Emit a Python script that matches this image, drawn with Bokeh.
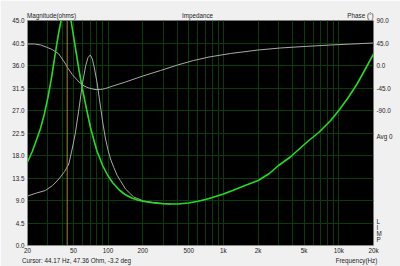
from bokeh.plotting import figure
from bokeh.models import Range1d, LinearAxis, LogAxis, FixedTicker, Span, PrintfTickFormatter
from bokeh.embed import file_html
from bokeh.resources import INLINE

# Impedance magnitude (green), ohms
imp_freq = [20, 22, 24, 26, 28, 30, 32, 34, 36, 38, 40, 42, 44.17, 46, 48, 50, 53, 56, 60, 65, 70,
            75, 80, 90, 100, 110, 125, 140, 160, 180, 200, 250, 300, 350, 400, 500, 600, 700, 800,
            1000, 1200, 1500, 2000, 2500, 3000, 3800, 4800, 5500, 6700, 8500, 10000, 12000, 14400,
            17000, 20000]
imp_ohm = [16.7, 18.8, 21.2, 23.5, 26.3, 29.5, 33.0, 36.8, 40.5, 43.6, 46.0, 47.2, 47.36, 46.6,
           44.6, 42.0, 38.4, 35.0, 31.2, 27.3, 23.8, 21.2, 18.9, 15.9, 13.9, 12.5, 11.1, 10.2, 9.5,
           9.1, 8.85, 8.5, 8.35, 8.3, 8.3, 8.5, 8.85, 9.2, 9.6, 10.3, 11.0, 11.9, 13.0, 14.4, 16.0,
           17.7, 19.8, 21.0, 22.6, 25.0, 27.0, 29.5, 32.3, 35.3, 38.3]

# Second impedance curve (grey), ohms
imp2_freq = [20, 24, 28.6, 33, 37.4, 42, 45.6, 49, 52, 56, 60, 64, 67, 70, 73, 76, 80, 85, 90, 95,
             100, 105, 112, 120, 127.5, 141.5, 166.7, 203, 250, 300, 350]
imp2_ohm = [9.9, 10.5, 11.0, 12.0, 13.3, 14.8, 16.3, 19.5, 22.5, 27.5, 32.5, 36.0, 37.6, 38.1,
            37.3, 35.5, 32.7, 28.5, 24.5, 21.3, 19.0, 17.3, 15.6, 14.0, 13.0, 11.3, 9.7, 8.9, 8.6,
            8.4, 8.3]

# Phase (grey), degrees
phase_freq = [20, 23, 26, 29, 32.7, 37.4, 42.8, 44.17, 48.9, 55.9, 62, 68, 77, 86, 95, 110, 141.5,
              200, 285, 400, 550, 750, 1150, 2000, 3100, 5000, 8500, 13000, 20000]
phase_deg = [43, 43, 41, 37, 32, 23, 3, -3.2, -18, -33, -41, -45, -48, -48, -46, -41, -33, -21,
             -10, 1, 10, 17, 24, 31, 35, 38, 41, 43, 45]

x_ticks = [20, 50, 100, 200, 500, 1000, 2000, 5000, 10000, 20000]
x_tick_labels = ["20", "50", "100", "200", "500", "1k", "2k", "5k", "10k", "20k"]
x_grid = [20, 30, 40, 50, 60, 70, 80, 90, 100, 200, 300, 400, 500, 600, 700, 800, 900,
          1000, 2000, 3000, 4000, 5000, 6000, 7000, 8000, 9000, 10000, 20000]
y_ticks = [0, 4.5, 9, 13.5, 18, 22.5, 27, 31.5, 36, 40.5, 45]
phase_ticks = [90, 45, 0, -45, -90]
side_labels = ["Avg 0", "L", "I", "M", "P"]
top_texts = ["Magnitude(ohms)", "Impedance", "Phase (°)"]
bottom_texts = ["Cursor: 44.17 Hz, 47.36 Ohm, -3.2 deg", "Frequency(Hz)"]
cursor_freq = 44.17

FONT = "Liberation Sans"
FS = "6.3px"
TXT = "#222222"
GRID = "#0b3a0b"

# layout (pixels) of the plotting frame
W, H = 400, 266
FL, FR, FT, FB = 27, 373, 20, 245


def freq_at(px):
    return 20 * 10 ** ((px - FL) / (FR - FL) * 3)


def phase_at(py):
    return 90 - (py - FT) / (FB - FT) * 450


p = figure(width=W, height=H, x_axis_type="log",
           x_range=Range1d(20, 20000), y_range=Range1d(0, 45),
           output_backend="svg", toolbar_location=None, title=None,
           min_border_left=FL, min_border_right=W - FR, min_border_top=FT, min_border_bottom=H - FB,
           background_fill_color="black", border_fill_color="#f0f0f0",
           outline_line_color=None)
p.extra_y_ranges = {"phase": Range1d(-360, 90)}
xa = p.xaxis[0]
ya = p.yaxis[0]

p.xgrid.ticker = FixedTicker(ticks=x_grid)
p.ygrid.ticker = FixedTicker(ticks=y_ticks)
for g in (p.xgrid, p.ygrid):
    g.grid_line_color = GRID
    g.grid_line_width = 1

xa.ticker = FixedTicker(ticks=x_ticks)
xa.major_label_overrides = {t: l for t, l in zip(x_ticks, x_tick_labels)}
ya.ticker = FixedTicker(ticks=y_ticks)
ya.formatter = PrintfTickFormatter(format="%.1f")

# right axis: phase ticks plus the side annotations
side_pos = [phase_at(136), phase_at(221), phase_at(227), phase_at(233), phase_at(239)]
ra = LinearAxis(y_range_name="phase", ticker=FixedTicker(ticks=phase_ticks + side_pos),
                formatter=PrintfTickFormatter(format="%.1f"))
ra.major_label_overrides = {t: l for t, l in zip(side_pos, side_labels)}
p.add_layout(ra, "right")

# top texts as a label-only axis
top_pos = [freq_at(51), freq_at(197), freq_at(360)]
ta = LogAxis(ticker=FixedTicker(ticks=top_pos))
ta.major_label_overrides = {t: l for t, l in zip(top_pos, top_texts)}
p.add_layout(ta, "above")

# bottom status texts as a second label-only axis
bot_pos = [freq_at(76), freq_at(356)]
ba = LogAxis(ticker=FixedTicker(ticks=bot_pos))
ba.major_label_overrides = {t: l for t, l in zip(bot_pos, bottom_texts)}
p.add_layout(ba, "below")

for ax in (xa, ya, ra, ta, ba):
    ax.major_tick_line_color = None
    ax.minor_tick_line_color = None
    ax.major_tick_out = 0
    ax.major_tick_in = 0
    ax.minor_tick_out = 0
    ax.minor_tick_in = 0
    ax.major_label_text_font = FONT
    ax.major_label_text_font_size = FS
    ax.major_label_text_color = TXT
    ax.major_label_standoff = 3
xa.axis_line_color = "#8a8a8a"
ya.axis_line_color = "#8a8a8a"
for ax in (ra, ta, ba):
    ax.axis_line_color = None
ta.major_label_standoff = 2
xa.major_label_standoff = 1
ba.major_label_standoff = 0

p.add_layout(Span(location=cursor_freq, dimension="height", line_color="#9a8a30", line_width=1))

p.line(phase_freq, phase_deg, y_range_name="phase", line_color="#a8a8a8", line_width=1)
p.line(imp2_freq, imp2_ohm, line_color="#a8a8a8", line_width=1)
p.line(imp_freq, imp_ohm, line_color="#22dd22", line_width=1.6)

open("out.html", "w").write(file_html(p, INLINE))
